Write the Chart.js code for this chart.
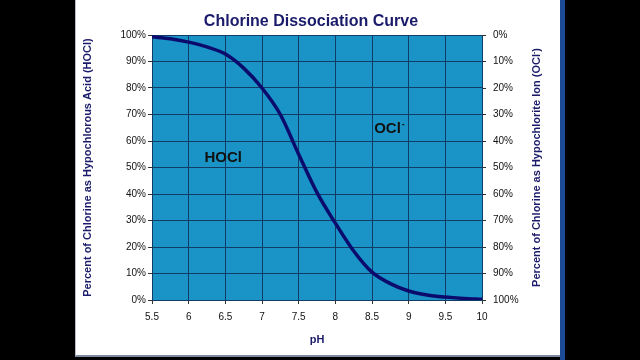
<!DOCTYPE html>
<html lang="en">
<head>
    <meta charset="UTF-8">
    <title>Chlorine Dissociation Curve</title>
    <style>
        body {
            margin: 0;
            padding: 0;
            width: 640px;
            height: 360px;
            background-color: #000;
            overflow: hidden;
            position: relative;
        }
        .panel {
            position: absolute;
            left: 75px;
            top: 0;
            width: 484px;
            height: 355px;
            background-color: #fff;
            border-left: 1px solid #b8bcc4;
            border-bottom: 2px solid #7d8aa0;
        }
        .edge {
            position: absolute;
            left: 560px;
            top: 0;
            width: 5px;
            height: 360px;
            background-color: #1d4a94;
        }
        canvas {
            position: absolute;
            left: 0;
            top: 0;
        }
    </style>
    <script src="https://cdn.jsdelivr.net/npm/chart.js"></script>
</head>
<body>
    <div class="panel"></div>
    <div class="edge"></div>
    <canvas id="chlorineChart" width="640" height="360"></canvas>

    <script>
        // pH values and percent of chlorine present as HOCl
        const phValues = [5.5, 5.75, 6, 6.25, 6.5, 6.75, 7, 7.25, 7.5, 7.75, 8, 8.25, 8.5, 8.75, 9, 9.25, 9.5, 9.75, 10];
        const hoclPercent = [99.3, 98.6, 97.3, 95.5, 92.8, 87.5, 80, 70, 55, 40.5, 29, 18.5, 10.5, 6.2, 3.4, 1.9, 1.1, 0.6, 0.3];

        const chartTitle = 'Chlorine Dissociation Curve';
        const xAxisTitle = 'pH';
        const leftAxisTitle = 'Percent of Chlorine as Hypochlorous Acid (HOCl)';
        const rightAxisTitle = ['Percent of Chlorine as Hypochlorite Ion (OCl', '-', ')'];
        const hoclLabel = 'HOCl';
        const oclLabel = ['OCl', '-'];

        const navy = '#1b1b6b';
        const gridColor = '#123c66';
        const fontFamily = '"Liberation Sans", Arial, sans-serif';

        // fills the plot area and writes the labels that Chart.js can't place itself
        const extras = {
            id: 'extras',
            beforeDraw(chart) {
                const { ctx, chartArea: a } = chart;
                ctx.save();
                ctx.fillStyle = '#1a93c6';
                ctx.fillRect(a.left, a.top, a.right - a.left, a.bottom - a.top);
                ctx.restore();
            },
            afterDraw(chart) {
                const { ctx, chartArea: a, scales } = chart;
                ctx.save();

                // right axis title, reading bottom to top
                ctx.font = 'bold 11px ' + fontFamily;
                ctx.fillStyle = navy;
                ctx.textBaseline = 'middle';
                const w0 = ctx.measureText(rightAxisTitle[0]).width;
                ctx.font = 'bold 7px ' + fontFamily;
                const w1 = ctx.measureText(rightAxisTitle[1]).width;
                ctx.font = 'bold 11px ' + fontFamily;
                const w2 = ctx.measureText(rightAxisTitle[2]).width;
                const total = w0 + w1 + w2;
                ctx.translate(537, (a.top + a.bottom) / 2);
                ctx.rotate(-Math.PI / 2);
                let x = -total / 2;
                ctx.textAlign = 'left';
                ctx.fillText(rightAxisTitle[0], x, 0);
                x += w0;
                ctx.font = 'bold 7px ' + fontFamily;
                ctx.fillText(rightAxisTitle[1], x, -3);
                x += w1;
                ctx.font = 'bold 11px ' + fontFamily;
                ctx.fillText(rightAxisTitle[2], x, 0);
                ctx.setTransform(1, 0, 0, 1, 0, 0);

                // species labels inside the plot
                ctx.fillStyle = '#111';
                ctx.font = 'bold 15px ' + fontFamily;
                ctx.textAlign = 'center';
                ctx.fillText(hoclLabel, scales.x.getPixelForValue(6.47), scales.y.getPixelForValue(53.6));

                ctx.textAlign = 'left';
                const ox = scales.x.getPixelForValue(8.53);
                const oy = scales.y.getPixelForValue(64.5);
                ctx.fillText(oclLabel[0], ox, oy);
                const ow = ctx.measureText(oclLabel[0]).width;
                ctx.font = 'bold 9px ' + fontFamily;
                ctx.fillText(oclLabel[1], ox + ow + 1, oy - 5);
                ctx.restore();
            }
        };

        const ctx = document.getElementById('chlorineChart').getContext('2d');
        new Chart(ctx, {
            type: 'line',
            data: {
                datasets: [{
                    data: phValues.map((ph, i) => ({ x: ph, y: hoclPercent[i] })),
                    borderColor: '#0b0b6e',
                    borderWidth: 3.5,
                    pointRadius: 0,
                    cubicInterpolationMode: 'monotone',
                    fill: false,
                    yAxisID: 'y'
                }]
            },
            options: {
                responsive: false,
                devicePixelRatio: 1,
                animation: false,
                layout: {
                    padding: { left: 75, right: 93, top: 0, bottom: 0 }
                },
                scales: {
                    x: {
                        type: 'linear',
                        min: 5.5,
                        max: 10,
                        afterFit: (scale) => { scale.height = 60; },
                        ticks: {
                            stepSize: 0.5,
                            color: '#111',
                            padding: 7,
                            callback: (v) => String(v),
                            font: { family: fontFamily, size: 10 }
                        },
                        grid: { color: gridColor, tickLength: 4, tickColor: '#333' },
                        border: { color: gridColor },
                        title: {
                            display: true,
                            text: xAxisTitle,
                            color: navy,
                            padding: { top: 0, bottom: 13.4 },
                            font: { family: fontFamily, size: 11, weight: 'bold' }
                        }
                    },
                    y: {
                        type: 'linear',
                        position: 'left',
                        min: 0,
                        max: 100,
                        afterFit: (scale) => { scale.width = 77; },
                        ticks: {
                            stepSize: 10,
                            color: '#111',
                            padding: 2,
                            callback: (v) => v + '%',
                            font: { family: fontFamily, size: 10 }
                        },
                        grid: { color: gridColor, tickLength: 4, tickColor: '#333' },
                        border: { color: gridColor },
                        title: {
                            display: true,
                            text: leftAxisTitle,
                            color: navy,
                            padding: { top: 6.4, bottom: 0 },
                            font: { family: fontFamily, size: 11, weight: 'bold' }
                        }
                    },
                    y2: {
                        type: 'linear',
                        position: 'right',
                        min: 0,
                        max: 100,
                        reverse: true,
                        afterFit: (scale) => { scale.width = 65; },
                        ticks: {
                            stepSize: 10,
                            color: '#111',
                            padding: 7,
                            callback: (v) => v + '%',
                            font: { family: fontFamily, size: 10 }
                        },
                        grid: { drawOnChartArea: false, tickLength: 4, tickColor: '#333' },
                        border: { color: gridColor }
                    }
                },
                plugins: {
                    legend: { display: false },
                    tooltip: { enabled: false },
                    title: {
                        display: true,
                        text: chartTitle,
                        color: navy,
                        padding: { top: 11.8, bottom: 4 },
                        font: { family: fontFamily, size: 16, weight: 'bold' }
                    }
                }
            },
            plugins: [extras]
        });
    </script>
</body>
</html>
